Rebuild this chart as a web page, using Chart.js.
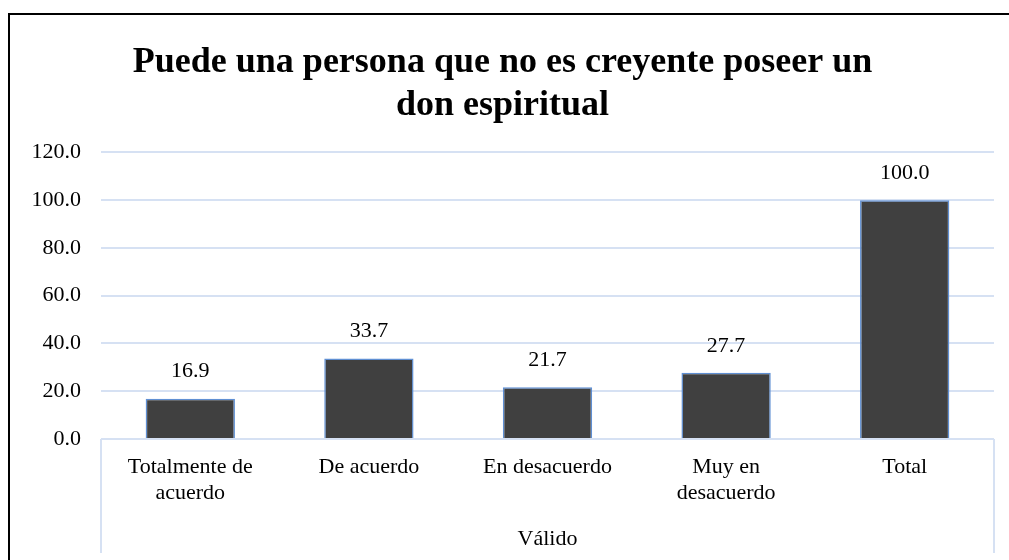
<!DOCTYPE html>
<html>
<head>
<meta charset="utf-8">
<script src="https://cdn.jsdelivr.net/npm/chart.js@4"></script>
<style>
    html, body { margin: 0; padding: 0; background: #fff; overflow: hidden; }
    #wrap { position: relative; width: 1009px; height: 560px; }
    #frame { position: absolute; left: 8px; top: 13px; width: 1020px; height: 600px;
             border-left: 2px solid #000; border-top: 2px solid #000; }
    canvas { position: absolute; left: 0; top: 0; }
</style>
</head>
<body>
<div id="wrap">
    <div id="frame"></div>
    <canvas id="chart" width="1009" height="560"></canvas>
</div>
<script>
// datos del gráfico
const categories = [['Totalmente de', 'acuerdo'], 'De acuerdo', 'En desacuerdo', ['Muy en', 'desacuerdo'], 'Total'];
const values = [16.9, 33.7, 21.7, 27.7, 100.0];
const yTicks = [0, 20, 40, 60, 80, 100, 120];
const titleLines = ['Puede una persona que no es creyente poseer un', 'don espiritual'];
const groupLabel = 'Válido';

const serif = '"Liberation Serif", "Times New Roman", serif';
const gridBlue = '#D6E1F3';

// etiquetas de valor encima de cada barra
const valueLabels = {
    id: 'valueLabels',
    afterDatasetsDraw(chart) {
        const ctx = chart.ctx;
        const meta = chart.getDatasetMeta(0);
        ctx.save();
        ctx.font = '22px ' + serif;
        ctx.fillStyle = '#000';
        ctx.textAlign = 'center';
        ctx.textBaseline = 'middle';
        meta.data.forEach((bar, i) => {
            ctx.fillText(values[i].toFixed(1), bar.x, bar.y - 27);
        });
        ctx.restore();
    }
};

// líneas verticales del eje de categorías (estilo Excel)
const categoryEdges = {
    id: 'categoryEdges',
    beforeDatasetsDraw(chart) {
        const ctx = chart.ctx;
        const x = chart.scales.x;
        ctx.save();
        ctx.strokeStyle = gridBlue;
        ctx.lineWidth = 2;
        [x.left, x.right].forEach(px => {
            ctx.beginPath();
            ctx.moveTo(px, chart.chartArea.bottom);
            ctx.lineTo(px, x.bottom - 7);
            ctx.stroke();
        });
        ctx.restore();
    }
};

new Chart(document.getElementById('chart'), {
    type: 'bar',
    data: {
        labels: categories,
        datasets: [{
            data: values,
            backgroundColor: '#404040',
            borderColor: '#5F8FD3',
            borderWidth: 1.5,
            barPercentage: 0.5,
            categoryPercentage: 1
        }]
    },
    options: {
        responsive: false,
        animation: false,
        layout: { padding: { left: 11, right: 15, top: 14, bottom: 0 } },
        plugins: {
            legend: { display: false },
            tooltip: { enabled: false },
            title: {
                display: true,
                text: titleLines,
                color: '#000',
                font: { family: serif, size: 36, weight: 'bold', lineHeight: 1.2 },
                padding: { top: 27, bottom: 25 }
            }
        },
        scales: {
            y: {
                min: 0,
                max: 120,
                afterBuildTicks: (scale) => { scale.ticks = yTicks.map(v => ({ value: v })); },
                afterFit: (scale) => { scale.width = 90; },
                border: { display: false },
                grid: { color: gridBlue, lineWidth: 2, drawTicks: false },
                ticks: {
                    color: '#000',
                    padding: 20,
                    font: { family: serif, size: 22 },
                    callback: (v) => Number(v).toFixed(1)
                }
            },
            x: {
                afterFit: (scale) => { scale.height = 121; },
                border: { display: false },
                grid: { display: false, drawTicks: false },
                ticks: {
                    color: '#000',
                    padding: 15,
                    maxRotation: 0,
                    autoSkip: false,
                    font: { family: serif, size: 22, lineHeight: 1.2 }
                },
                title: {
                    display: true,
                    text: groupLabel,
                    color: '#000',
                    font: { family: serif, size: 22 },
                    padding: { top: 0, bottom: 8 }
                }
            }
        }
    },
    plugins: [valueLabels, categoryEdges]
});
</script>
</body>
</html>
